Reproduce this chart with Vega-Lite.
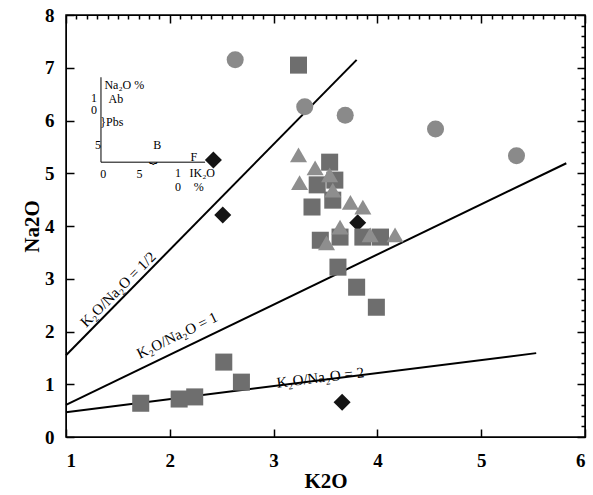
{
  "$schema": "https://vega.github.io/schema/vega-lite/v6.json",
  "width": 519,
  "height": 422,
  "autosize": "none",
  "padding": {"left": 66, "top": 15, "right": 8, "bottom": 58},
  "background": "white",
  "config": {
    "view": {"stroke": "black", "strokeWidth": 1.5},
    "font": "Liberation Serif"
  },
  "resolve": {"axis": {"x": "independent", "y": "independent"}},
  "layer": [
    {
      "data": {"values": [
        {"ratio": "1/2", "K2O": 1, "Na2O": 1.55},
        {"ratio": "1/2", "K2O": 3.8, "Na2O": 7.15},
        {"ratio": "1", "K2O": 1, "Na2O": 0.61},
        {"ratio": "1", "K2O": 5.82, "Na2O": 5.19},
        {"ratio": "2", "K2O": 1, "Na2O": 0.47},
        {"ratio": "2", "K2O": 5.53, "Na2O": 1.59}
      ]},
      "mark": {"type": "line", "color": "black", "strokeWidth": 2},
      "encoding": {
        "x": {"field": "K2O", "type": "quantitative", "scale": {"domain": [1, 6], "nice": false, "zero": false},
          "axis": {"orient": "bottom", "ticks": true, "tickSize": -8, "tickColor": "black", "tickWidth": 1.5,
            "values": [1, 2, 3, 4, 5, 6], "format": "d",
            "title": "K2O", "titleFont": "Liberation Serif", "titleFontSize": 21, "titleFontWeight": "bold", "titleColor": "black", "titlePadding": 0,
            "labelFont": "Liberation Serif", "labelFontSize": 19, "labelFontWeight": "bold", "labelColor": "black", "labelPadding": 22,
            "grid": false, "domainColor": "black"}},
        "y": {"field": "Na2O", "type": "quantitative", "scale": {"domain": [0, 8], "nice": false},
          "axis": {"orient": "left", "ticks": true, "tickSize": -8, "tickColor": "black", "tickWidth": 1.5,
            "values": [0, 1, 2, 3, 4, 5, 6, 7, 8], "format": "d",
            "title": "Na2O", "titleFont": "Liberation Serif", "titleFontSize": 21, "titleFontWeight": "bold", "titleColor": "black", "titlePadding": 2,
            "labelFont": "Liberation Serif", "labelFontSize": 19, "labelFontWeight": "bold", "labelColor": "black", "labelPadding": 20,
            "grid": false, "domainColor": "black"}},
        "detail": {"field": "ratio", "type": "nominal"}
      }
    },
    {
      "data": {"values": [
        {"group": "C", "K2O": 2.63, "Na2O": 7.15},
        {"group": "C", "K2O": 3.3, "Na2O": 6.26},
        {"group": "C", "K2O": 3.69, "Na2O": 6.1},
        {"group": "C", "K2O": 4.56, "Na2O": 5.84},
        {"group": "C", "K2O": 5.34, "Na2O": 5.33},
        {"group": "S", "K2O": 3.24, "Na2O": 7.05},
        {"group": "S", "K2O": 3.54, "Na2O": 5.21},
        {"group": "S", "K2O": 3.59, "Na2O": 4.87},
        {"group": "S", "K2O": 3.42, "Na2O": 4.78},
        {"group": "S", "K2O": 3.37, "Na2O": 4.36},
        {"group": "S", "K2O": 3.57, "Na2O": 4.49},
        {"group": "S", "K2O": 3.45, "Na2O": 3.73},
        {"group": "S", "K2O": 3.64, "Na2O": 3.79},
        {"group": "S", "K2O": 3.86, "Na2O": 3.79},
        {"group": "S", "K2O": 4.03, "Na2O": 3.79},
        {"group": "S", "K2O": 3.62, "Na2O": 3.22},
        {"group": "S", "K2O": 3.8, "Na2O": 2.84},
        {"group": "S", "K2O": 3.99, "Na2O": 2.46},
        {"group": "S", "K2O": 1.72, "Na2O": 0.64},
        {"group": "S", "K2O": 2.09, "Na2O": 0.72},
        {"group": "S", "K2O": 2.24, "Na2O": 0.76},
        {"group": "S", "K2O": 2.52, "Na2O": 1.42},
        {"group": "S", "K2O": 2.69, "Na2O": 1.04},
        {"group": "T", "K2O": 3.24, "Na2O": 5.35},
        {"group": "T", "K2O": 3.4, "Na2O": 5.1},
        {"group": "T", "K2O": 3.25, "Na2O": 4.82},
        {"group": "T", "K2O": 3.54, "Na2O": 4.97},
        {"group": "T", "K2O": 3.57, "Na2O": 4.68},
        {"group": "T", "K2O": 3.74, "Na2O": 4.45},
        {"group": "T", "K2O": 3.86, "Na2O": 4.36},
        {"group": "T", "K2O": 3.64, "Na2O": 3.98},
        {"group": "T", "K2O": 3.51, "Na2O": 3.68},
        {"group": "T", "K2O": 4.17, "Na2O": 3.83},
        {"group": "T", "K2O": 3.93, "Na2O": 3.83},
        {"group": "D", "K2O": 2.42, "Na2O": 5.25},
        {"group": "D", "K2O": 2.51, "Na2O": 4.21},
        {"group": "D", "K2O": 3.81, "Na2O": 4.06},
        {"group": "D", "K2O": 3.66, "Na2O": 0.66}
      ]},
      "mark": {"type": "point", "filled": true, "opacity": 1, "stroke": null},
      "encoding": {
        "x": {"field": "K2O", "type": "quantitative",
          "axis": {"orient": "top", "ticks": true, "tickColor": "black", "tickWidth": 1.5, "title": null, "labels": false, "grid": false, "domainColor": "black",
            "values": [1,1.1,1.2,1.3,1.4,1.5,1.6,1.7,1.8,1.9,2,2.1,2.2,2.3,2.4,2.5,2.6,2.7,2.8,2.9,3,3.1,3.2,3.3,3.4,3.5,3.6,3.7,3.8,3.9,4,4.1,4.2,4.3,4.4,4.5,4.6,4.7,4.8,4.9,5,5.1,5.2,5.3,5.4,5.5,5.6,5.7,5.8,5.9,6],
            "tickSize": {"condition": {"test": "abs(datum.value - round(datum.value)) < 0.001", "value": -8}, "value": -4}}},
        "y": {"field": "Na2O", "type": "quantitative",
          "axis": {"orient": "right", "ticks": true, "tickColor": "black", "tickWidth": 1.5, "title": null, "labels": false, "grid": false, "domainColor": "black",
            "values": [0,0.2,0.4,0.6,0.8,1,1.2,1.4,1.6,1.8,2,2.2,2.4,2.6,2.8,3,3.2,3.4,3.6,3.8,4,4.2,4.4,4.6,4.8,5,5.2,5.4,5.6,5.8,6,6.2,6.4,6.6,6.8,7,7.2,7.4,7.6,7.8,8],
            "tickSize": {"condition": {"test": "abs(datum.value - round(datum.value)) < 0.001", "value": -8}, "value": -4}}},
        "shape": {"field": "group", "type": "nominal", "legend": null,
          "scale": {"domain": ["C", "S", "T", "D"], "range": ["circle", "square", "triangle-up", "diamond"]}},
        "color": {"field": "group", "type": "nominal", "legend": null,
          "scale": {"domain": ["C", "S", "T", "D"], "range": ["#8a8a8a", "#6e6e6e", "#8e8e8e", "#141414"]}},
        "size": {"field": "group", "type": "nominal", "legend": null,
          "scale": {"domain": ["C", "S", "T", "D"], "range": [290, 290, 400, 330]}},
        "order": {"field": "group", "type": "nominal"}
      }
    },
    {
      "data": {"values": [{"K2O": 1.5, "Na2O": 2.8, "label": "K₂O/Na₂O = 1/2"}]},
      "mark": {"type": "text", "angle": 315, "font": "Liberation Serif", "fontSize": 15, "color": "black"},
      "encoding": {"x": {"field": "K2O", "type": "quantitative", "axis": null}, "y": {"field": "Na2O", "type": "quantitative", "axis": null}, "text": {"field": "label"}}
    },
    {
      "data": {"values": [{"K2O": 2.07, "Na2O": 1.93, "label": "K₂O/Na₂O = 1"}]},
      "mark": {"type": "text", "angle": 334, "font": "Liberation Serif", "fontSize": 15, "color": "black"},
      "encoding": {"x": {"field": "K2O", "type": "quantitative", "axis": null}, "y": {"field": "Na2O", "type": "quantitative", "axis": null}, "text": {"field": "label"}}
    },
    {
      "data": {"values": [{"K2O": 3.45, "Na2O": 1.13, "label": "K₂O/Na₂O = 2"}]},
      "mark": {"type": "text", "angle": 353, "font": "Liberation Serif", "fontSize": 15, "color": "black"},
      "encoding": {"x": {"field": "K2O", "type": "quantitative", "axis": null}, "y": {"field": "Na2O", "type": "quantitative", "axis": null}, "text": {"field": "label"}}
    },
    {
      "data": {"values": [
        {"x1": 1.337, "y1": 6.82, "x2": 1.337, "y2": 5.21},
        {"x1": 1.337, "y1": 5.21, "x2": 2.34, "y2": 5.21}
      ]},
      "mark": {"type": "rule", "color": "black", "strokeWidth": 1},
      "encoding": {
        "x": {"field": "x1", "type": "quantitative", "axis": null}, "y": {"field": "y1", "type": "quantitative", "axis": null},
        "x2": {"field": "x2"}, "y2": {"field": "y2"}
      }
    },
    {
      "data": {"values": [
        {"x": 1.37, "y": 6.68, "t": "Na₂O %"},
        {"x": 1.41, "y": 6.4, "t": "Ab"},
        {"x": 1.24, "y": 6.43, "t": "1"},
        {"x": 1.24, "y": 6.2, "t": "0"},
        {"x": 1.33, "y": 5.97, "t": "}Pbs"},
        {"x": 1.28, "y": 5.53, "t": "5"},
        {"x": 1.84, "y": 5.53, "t": "B"},
        {"x": 2.2, "y": 5.3, "t": "F"},
        {"x": 1.33, "y": 4.98, "t": "0"},
        {"x": 1.68, "y": 4.98, "t": "5"},
        {"x": 2.05, "y": 5.0, "t": "1"},
        {"x": 2.05, "y": 4.74, "t": "0"},
        {"x": 2.19, "y": 5.0, "t": "IK₂O"},
        {"x": 2.23, "y": 4.74, "t": "%"}
      ]},
      "mark": {"type": "text", "font": "Liberation Serif", "fontSize": 12, "color": "black", "align": "left", "baseline": "middle"},
      "encoding": {"x": {"field": "x", "type": "quantitative", "axis": null}, "y": {"field": "y", "type": "quantitative", "axis": null}, "text": {"field": "t"}}
    },
    {
      "data": {"values": [{"x": 1.84, "y": 5.3, "t": "⏟"}]},
      "mark": {"type": "text", "font": "DejaVu Sans", "fontSize": 14, "color": "black", "align": "center", "baseline": "middle"},
      "encoding": {"x": {"field": "x", "type": "quantitative", "axis": null}, "y": {"field": "y", "type": "quantitative", "axis": null}, "text": {"field": "t"}}
    }
  ]
}
